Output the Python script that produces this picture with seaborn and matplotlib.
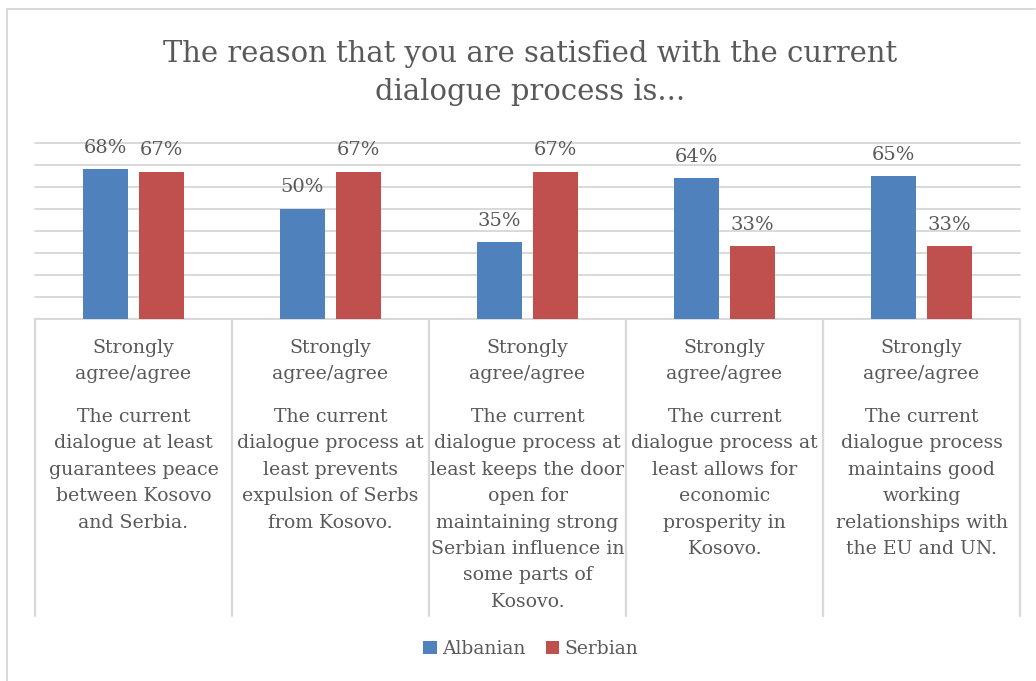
import matplotlib
matplotlib.use("Agg")
import matplotlib.pyplot as plt
import matplotlib.transforms as mtransforms
from matplotlib.lines import Line2D
from matplotlib.patches import Patch
import pandas as pd
import seaborn as sns

# ---- data -------------------------------------------------------------
statements = [
    "The current\ndialogue at least\nguarantees peace\nbetween Kosovo\nand Serbia.",
    "The current\ndialogue process at\nleast prevents\nexpulsion of Serbs\nfrom Kosovo.",
    "The current\ndialogue process at\nleast keeps the door\nopen for\nmaintaining strong\nSerbian influence in\nsome parts of\nKosovo.",
    "The current\ndialogue process at\nleast allows for\neconomic\nprosperity in\nKosovo.",
    "The current\ndialogue process\nmaintains good\nworking\nrelationships with\nthe EU and UN.",
]
response_label = "Strongly\nagree/agree"
groups = ["Albanian", "Serbian"]
albanian = [68, 50, 35, 64, 65]
serbian = [67, 67, 67, 33, 33]
title = "The reason that you are satisfied with the current\ndialogue process is..."

colors = {"Albanian": "#4F81BD", "Serbian": "#C0504D"}
text_color = "#595959"
grid_color = "#D9D9D9"

df = pd.DataFrame({
    "item": list(range(len(statements))) * 2,
    "group": ["Albanian"] * len(albanian) + ["Serbian"] * len(serbian),
    "value": [v / 100 for v in albanian + serbian],
})

# ---- figure -----------------------------------------------------------
W, H = 1036, 681
sns.set_theme(style="white")
plt.rcParams["font.family"] = ["DejaVu Serif"]

fig = plt.figure(figsize=(W / 100, H / 100), dpi=100)
fig.patch.set_facecolor("white")


def fx(px):
    return px / W


def fy(py):
    return 1 - py / H


plot_left, plot_right, plot_top, plot_bottom = 35, 1020, 143, 319
ax = fig.add_axes([fx(plot_left), fy(plot_bottom),
                   fx(plot_right - plot_left), (plot_bottom - plot_top) / H])

sns.barplot(data=df, x="item", y="value", hue="group", hue_order=groups,
            palette=colors, width=0.568, gap=0.2, ax=ax, legend=False,
            saturation=1, edgecolor="none")

ax.set_xlim(-0.5, len(statements) - 0.5)
ax.set_ylim(0, 0.8)
ax.set_yticks([i / 10 for i in range(9)])
ax.yaxis.grid(True, color=grid_color, linewidth=1.4)
for gl in ax.yaxis.get_gridlines():
    gl.set_clip_on(False)
ax.set_axisbelow(True)
ax.set_xticks([])
ax.set_yticklabels([])
ax.tick_params(left=False, bottom=False)
ax.set_xlabel("")
ax.set_ylabel("")
for s in ax.spines.values():
    s.set_visible(False)
ax.axhline(0, color=grid_color, linewidth=1.6, zorder=0.5)

for cont in ax.containers:
    ax.bar_label(cont, labels=[f"{b.get_height() * 100:.0f}%" for b in cont],
                 padding=9, fontsize=14, color=text_color)

# category separators and multi-level axis labels
trans = mtransforms.blended_transform_factory(ax.transData, fig.transFigure)
for b in range(len(statements) + 1):
    ax.add_line(Line2D([b - 0.5, b - 0.5], [fy(plot_bottom), fy(616)],
                       transform=trans, color=grid_color, linewidth=1.6,
                       clip_on=False))
for i, text in enumerate(statements):
    ax.text(i, fy(339), response_label, transform=trans, ha="center", va="top",
            fontsize=13.6, color=text_color, linespacing=1.6)
    ax.text(i, fy(408), text, transform=trans, ha="center", va="top",
            fontsize=13.6, color=text_color, linespacing=1.6)

# title
fig.text(0.512, fy(73), title, ha="center", va="center", fontsize=20.9,
         color=text_color, linespacing=1.5)

# legend
handles = [Patch(facecolor=colors[g], edgecolor="none") for g in groups]
fig.legend(handles, groups, loc="center", bbox_to_anchor=(fx(531), fy(649)),
           ncol=2, frameon=False, fontsize=13.5, labelcolor=text_color,
           handlelength=0.7, handleheight=0.7, handletextpad=0.3,
           columnspacing=1.1)

# chart frame
fig.add_artist(Line2D([fx(7), fx(1035)], [fy(9), fy(9)], color=grid_color,
                      linewidth=1.4))
fig.add_artist(Line2D([fx(7), fx(7)], [fy(9), fy(681)], color=grid_color,
                      linewidth=1.4))

fig.savefig("out.png", dpi=100)
